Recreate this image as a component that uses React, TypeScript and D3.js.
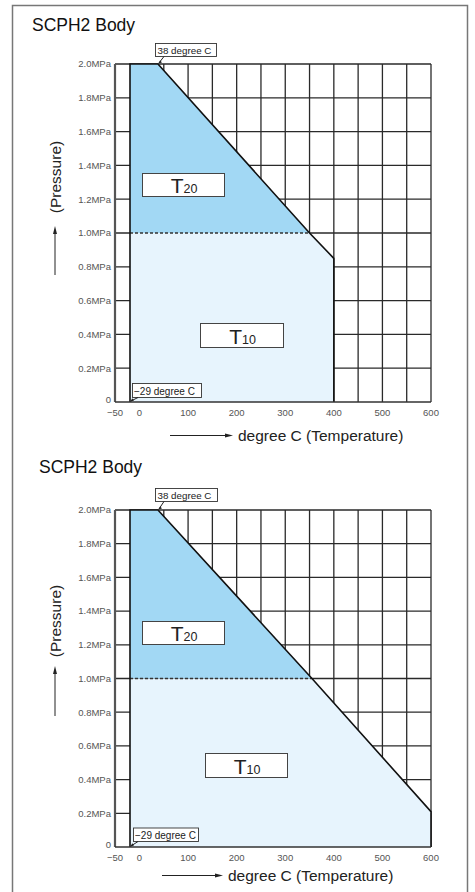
import React from 'react';
import * as d3 from 'd3';

const FONT = '"Liberation Sans", Arial, Helvetica, sans-serif';

// Axis ticks
const xTicks = [-50, 0, 100, 200, 300, 400, 500, 600];
const xTickLabels = ['\u221250', '0', '100', '200', '300', '400', '500', '600'];
const xGrid = [50, 100, 150, 200, 250, 300, 350, 400, 450, 500, 550, 600];
const yTicks = [0, 0.2, 0.4, 0.6, 0.8, 1.0, 1.2, 1.4, 1.6, 1.8, 2.0];
const yTickLabels = ['0', '0.2MPa', '0.4MPa', '0.6MPa', '0.8MPa', '1.0MPa', '1.2MPa', '1.4MPa', '1.6MPa', '1.8MPa', '2.0MPa'];

// Chart 1 (top): [temperature °C, pressure MPa]
const t20Upper: [number, number][] = [[-29, 1.0], [-29, 2.0], [38, 2.0], [350, 1.0]];
const t10Upper: [number, number][] = [[-29, 0], [-29, 1.0], [350, 1.0], [400, 0.85], [400, 0]];
const outlineUpper: [number, number][] = [[-29, 0], [-29, 2.0], [38, 2.0], [350, 1.0], [400, 0.85], [400, 0]];

// Chart 2 (bottom)
const t20Lower: [number, number][] = [[-29, 1.0], [-29, 2.0], [38, 2.0], [355, 1.0]];
const t10Lower: [number, number][] = [[-29, 0], [-29, 1.0], [355, 1.0], [600, 0.21], [600, 0]];
const outlineLower: [number, number][] = [[-29, 0], [-29, 2.0], [38, 2.0], [355, 1.0], [600, 0.21], [600, 0]];

const titleText = 'SCPH2 Body';
const xTitle = 'degree C (Temperature)';
const yTitle = '(Pressure)';
const callTop = '38 degree C';
const callBottom = '\u221229 degree C';

type Cfg = {
  y0: number; y2: number;
  t20: [number, number][]; t10: [number, number][]; outline: [number, number][];
  dashEnd: number;
  titleX: number; titleY: number;
  t20Box: number[]; t10Box: number[];
  topBox: number[]; botBox: number[];
  arrowY: number; arrowX1: number; arrowX2: number; xTitleX: number;
  yTitleY: number; yArrow1: number; yArrow2: number;
};

const cfgs: Cfg[] = [
  {
    y0: 402, y2: 64, t20: t20Upper, t10: t10Upper, outline: outlineUpper, dashEnd: 350,
    titleX: 32, titleY: 31,
    t20Box: [142, 173, 82, 23], t10Box: [200, 323, 83, 24],
    topBox: [155, 43.5, 61, 13], botBox: [132, 383.5, 69, 14],
    arrowY: 435.5, arrowX1: 170, arrowX2: 233, xTitleX: 238,
    yTitleY: 177, yArrow1: 275, yArrow2: 226,
  },
  {
    y0: 847, y2: 510, t20: t20Lower, t10: t10Lower, outline: outlineLower, dashEnd: 355,
    titleX: 39, titleY: 473,
    t20Box: [142, 621, 82, 23], t10Box: [205, 753, 82, 24],
    topBox: [155, 488.5, 62, 13], botBox: [133, 828, 65, 13.5],
    arrowY: 875.5, arrowX1: 162, arrowX2: 223, xTitleX: 228,
    yTitleY: 621, yArrow1: 716, yArrow2: 666,
  },
];

function Chart({ c }: { c: Cfg }) {
  const x = d3.scaleLinear().domain([-50, -29, 0, 600]).range([115, 130, 139.5, 431]);
  const y = d3.scaleLinear().domain([0, 2]).range([c.y0, c.y2]);
  const line = d3.line<[number, number]>().x(d => x(d[0])).y(d => y(d[1]));
  const area = (pts: [number, number][]) => line(pts)! + 'Z';

  return (
    <g>
      <text x={c.titleX} y={c.titleY} fontSize={17.5} fontFamily={FONT} fill="#111">{titleText}</text>

      {/* grid */}
      {yTicks.filter(v => v > 0).map(v => (
        <line key={'h' + v} x1={x(-50)} x2={x(600)} y1={y(v)} y2={y(v)} stroke="#2a2a2a" strokeWidth={1.3} />
      ))}
      {xGrid.map(v => (
        <line key={'v' + v} x1={x(v)} x2={x(v)} y1={y(0)} y2={y(2)} stroke="#2a2a2a" strokeWidth={1.3} />
      ))}

      {/* fills */}
      <path d={area(c.t10)} fill="#e7f4fd" />
      <path d={area(c.t20)} fill="#a2d8f4" />

      {/* dashed 1.0 line */}
      <line x1={x(-29)} x2={x(c.dashEnd)} y1={y(1)} y2={y(1)} stroke="#333" strokeWidth={1.3} strokeDasharray="3,2" />

      {/* outline */}
      <path d={line(c.outline)!} fill="none" stroke="#111" strokeWidth={1.6} />

      {/* axes */}
      <line x1={x(-50)} x2={x(-50)} y1={y(2)} y2={y(0)} stroke="#555" strokeWidth={2.2} />
      <line x1={x(-50)} x2={x(600)} y1={y(0)} y2={y(0)} stroke="#333" strokeWidth={1.6} />

      {/* y tick labels */}
      {yTicks.map((v, i) => (
        <text key={'yl' + v} x={111} y={y(v) - (v === 0 ? 2 : 0)} dy="0.35em" textAnchor="end" fontSize={9.5} fontFamily={FONT} fill="#555">
          {yTickLabels[i]}
        </text>
      ))}
      {/* x tick labels */}
      {xTicks.map((v, i) => (
        <text key={'xl' + v} x={x(v)} y={y(0) + 13.5} textAnchor="middle" fontSize={9.5} fontFamily={FONT} fill="#555">
          {xTickLabels[i]}
        </text>
      ))}

      {/* x title */}
      <line x1={c.arrowX1} x2={c.arrowX2 - 6} y1={c.arrowY} y2={c.arrowY} stroke="#222" strokeWidth={1} />
      <path d={`M${c.arrowX2},${c.arrowY} L${c.arrowX2 - 8},${c.arrowY - 2} L${c.arrowX2 - 8},${c.arrowY + 2} Z`} fill="#222" />
      <text x={c.xTitleX} y={c.arrowY + 5} fontSize={15.5} fontFamily={FONT} fill="#222">{xTitle}</text>

      {/* y title */}
      <text transform={`translate(61,${c.yTitleY}) rotate(-90)`} textAnchor="middle" fontSize={15.5} fontFamily={FONT} fill="#222">{yTitle}</text>
      <line x1={55} x2={55} y1={c.yArrow1} y2={c.yArrow2 + 6} stroke="#222" strokeWidth={1} />
      <path d={`M55,${c.yArrow2} L53,${c.yArrow2 + 8} L57,${c.yArrow2 + 8} Z`} fill="#222" />

      {/* T boxes */}
      {[{ b: c.t20Box, s: '20' }, { b: c.t10Box, s: '10' }].map(({ b, s }) => (
        <g key={'tb' + s}>
          <rect x={b[0] + 0.5} y={b[1] + 0.5} width={b[2]} height={b[3]} fill="#fff" stroke="#444" strokeWidth={1} />
          <text x={b[0] + b[2] / 2 + 1} y={b[1] + b[3] - 3} textAnchor="middle" fontFamily={FONT} fill="#222">
            <tspan fontSize={21}>T</tspan>
            <tspan fontSize={12.5}>{s}</tspan>
          </text>
        </g>
      ))}

      {/* callouts */}
      <rect x={c.topBox[0] + 0.5} y={c.topBox[1]} width={c.topBox[2]} height={c.topBox[3]} fill="#fff" stroke="#333" strokeWidth={0.9} />
      <text x={c.topBox[0] + 2.5} y={c.topBox[1] + c.topBox[3] - 3} fontSize={9.8} fontFamily={FONT} fill="#222">{callTop}</text>
      <line x1={x(38) + 6} y1={c.topBox[1] + c.topBox[3]} x2={x(38) + 1} y2={y(2) - 1} stroke="#222" strokeWidth={1} />
      <path d={`M${x(38) + 0.5},${y(2) - 0.5} l3.5,-1 l-1.8,-2.2 Z`} fill="#222" />

      <rect x={c.botBox[0] + 0.5} y={c.botBox[1]} width={c.botBox[2]} height={c.botBox[3]} fill="#fff" stroke="#333" strokeWidth={0.9} />
      <text x={c.botBox[0] + 2} y={c.botBox[1] + c.botBox[3] - 3} fontSize={10} fontFamily={FONT} fill="#222">{callBottom}</text>
      <line x1={x(-29) + 8} y1={c.botBox[1] + c.botBox[3]} x2={x(-29) + 1} y2={y(0) - 1} stroke="#222" strokeWidth={1} />
      <path d={`M${x(-29) + 0.5},${y(0) - 0.5} l3.5,-1 l-1.8,-2.2 Z`} fill="#222" />
    </g>
  );
}

export default function App() {
  return (
    <svg width={475} height={892} style={{ position: 'absolute', left: 0, top: 0, background: '#fff' }}>
      <rect x={0} y={0} width={475} height={892} fill="#fff" />
      <rect x={12.5} y={5.5} width={455} height={900} fill="none" stroke="#777" strokeWidth={1.5} />
      {cfgs.map((c, i) => <Chart key={i} c={c} />)}
    </svg>
  );
}
